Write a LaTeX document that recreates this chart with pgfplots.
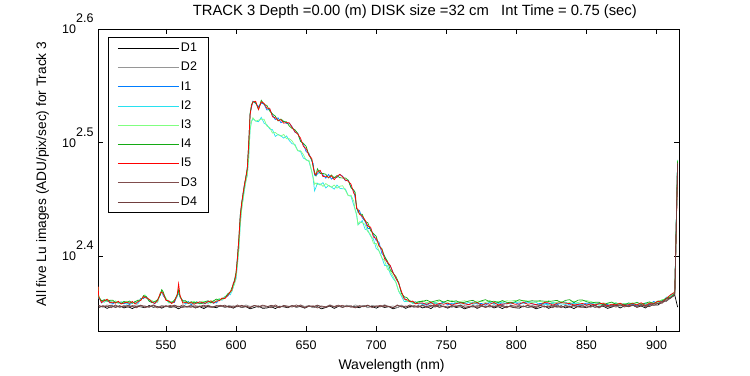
\documentclass[border=0pt]{standalone}
\usepackage{fontspec}
\setmainfont{Liberation Sans}
\usepackage{pgfplots}
\usepackage{pgfplotstable}
\pgfplotsset{compat=1.18}
\newcommand{\fs}[1]{\fontsize{#1}{#1}\selectfont}
\definecolor{cD1}{RGB}{0,0,0}
\definecolor{cD2}{RGB}{150,150,150}
\definecolor{cI1}{RGB}{0,125,255}
\definecolor{cI2}{RGB}{40,225,240}
\definecolor{cI3}{RGB}{128,255,128}
\definecolor{cI4}{RGB}{20,170,20}
\definecolor{cI5}{RGB}{255,0,0}
\definecolor{cD3}{RGB}{128,77,77}
\definecolor{cD4}{RGB}{112,62,62}

\pgfplotstableread{
x D1 D2 D3 D4
502 226.6 227.4 227.6 226.7
505 227.3 226.7 226.9 227.4
508 226.2 227.8 227.2 227.1
511 227.1 227.1 226.5 227.7
514 226.8 227.5 227.8 226.6
517 227.4 226.5 226.8 227.3
520 226.4 227.6 227.3 226.9
523 227.0 227.2 226.7 227.6
526 226.1 226.9 227.5 227.0
529 227.2 227.9 227.0 226.5
532 226.9 227.0 227.7 227.5
535 226.5 227.3 226.6 227.2
538 227.5 226.6 227.1 226.8
541 226.7 227.7 227.4 227.8
544 227.1 226.8 226.4 226.9
547 226.3 227.5 227.3 226.7
550 227.3 227.2 226.9 227.4
553 226.6 226.7 227.6 227.0
556 227.0 227.6 226.8 227.7
559 226.0 227.1 227.2 226.8
562 227.1 227.2 226.6 227.8
565 226.8 226.9 227.1 226.9
568 227.4 227.9 227.4 226.7
571 226.4 227.0 226.4 227.4
574 227.0 227.3 227.3 227.0
577 226.1 226.6 226.9 227.7
580 227.2 227.7 227.6 226.8
583 226.9 226.8 226.8 226.7
586 226.5 227.5 227.2 227.4
589 227.5 227.2 227.6 227.1
592 226.7 226.7 226.9 227.7
595 227.1 227.6 227.2 226.6
598 226.3 227.1 226.5 227.3
601 227.3 227.4 227.8 226.9
604 226.6 226.7 226.8 227.6
607 227.0 227.8 227.3 227.0
610 226.0 227.1 226.7 226.5
613 226.6 227.5 227.5 227.5
616 227.3 226.5 227.0 227.2
619 226.2 227.6 227.7 226.8
622 226.4 226.8 227.2 226.9
625 227.0 227.5 226.5 227.6
628 226.1 227.2 227.8 227.0
631 227.2 226.7 226.8 226.5
634 226.9 227.6 227.3 227.5
637 226.5 227.1 226.7 227.2
640 227.5 227.4 227.5 226.8
643 226.7 226.7 227.0 227.8
646 227.1 227.8 227.7 226.9
649 226.3 227.1 226.6 226.7
652 227.3 227.5 227.1 227.4
655 226.6 226.5 227.4 227.0
658 227.0 227.6 226.4 227.7
661 226.0 227.2 227.3 226.8
664 226.6 226.9 226.9 226.7
667 227.3 227.9 227.6 227.4
670 226.2 227.0 226.8 227.1
673 227.1 227.3 227.2 227.7
676 226.8 226.6 227.6 226.6
679 227.4 227.7 226.9 227.3
682 227.2 226.7 227.4 226.8
685 226.9 227.8 226.4 226.7
688 226.5 227.1 227.3 227.4
691 227.5 227.5 226.9 227.1
694 226.7 226.5 227.6 227.7
697 227.1 227.6 226.8 226.6
700 226.3 227.2 227.2 227.3
703 227.3 226.9 227.6 226.9
706 226.6 227.9 226.9 227.6
709 227.0 227.0 227.2 227.0
712 226.0 227.3 226.5 226.5
715 226.6 226.6 227.8 227.5
718 227.3 227.7 226.8 227.2
721 226.2 226.8 227.3 226.8
724 227.1 227.5 226.7 227.8
727 226.8 227.2 227.5 226.9
730 227.4 226.7 227.0 226.7
733 226.4 227.6 227.7 227.4
736 227.0 227.1 226.6 227.0
739 226.1 227.4 227.1 227.7
742 227.5 226.9 227.8 226.8
745 226.7 227.9 226.8 227.8
748 227.1 227.0 227.3 226.9
751 226.3 227.3 226.7 226.7
754 227.3 226.6 227.5 227.4
757 226.6 227.7 227.0 227.0
760 227.0 226.8 227.7 227.7
763 226.0 227.5 226.6 226.8
766 226.6 227.2 227.1 226.7
769 227.3 226.7 227.4 227.4
772 226.2 227.6 226.4 227.1
775 227.1 227.1 227.3 227.7
778 226.8 227.4 226.9 226.6
781 227.4 226.7 227.6 227.3
784 226.4 227.8 226.8 226.9
787 227.0 227.1 227.2 227.6
790 226.1 227.5 227.6 227.0
793 227.2 226.5 226.9 226.5
796 226.9 227.6 227.2 227.5
799 226.5 227.2 226.5 227.2
802 226.3 227.5 227.3 227.3
805 227.3 227.2 226.9 226.9
808 226.6 226.7 227.6 227.6
811 227.0 227.6 226.8 227.0
814 226.0 227.1 227.2 226.5
817 226.6 227.4 227.6 227.5
820 227.3 226.7 226.9 227.2
823 226.2 227.8 227.2 226.8
826 227.1 227.1 226.5 227.8
829 226.8 227.5 227.8 226.9
832 227.4 226.5 226.8 226.7
835 226.4 227.6 227.3 227.4
838 227.0 227.2 226.7 227.0
841 226.1 226.9 227.5 227.7
844 227.2 227.9 227.0 226.8
847 226.9 227.0 227.7 226.7
850 226.5 227.3 226.6 227.4
853 227.5 226.6 227.1 227.1
856 226.7 227.7 227.4 227.7
859 227.1 226.8 226.4 226.6
862 227.2 228.0 227.5 227.9
865 226.2 227.3 226.9 227.0
868 226.8 227.7 227.7 226.9
871 227.5 226.7 227.2 227.6
874 226.4 227.8 227.9 227.3
877 227.3 227.4 226.8 227.9
880 227.1 227.2 227.4 226.9
883 227.7 228.2 227.7 227.6
886 226.7 227.3 226.7 227.2
889 227.3 227.6 227.6 227.9
892 226.4 226.9 227.2 227.3
895 227.7 228.2 228.1 227.0
898 227.7 227.6 227.6 228.3
901 227.7 228.7 228.4 228.4
904 229.3 229.0 229.4 228.6
907 229.5 229.5 229.7 230.6
910 231.1 231.6 231.2 230.9
913 232.3 233.1 232.5 232.7
915 226.8 303.0 303.5 303.0
}\Ddata

\pgfplotstableread{
x I1 I2 I3 I4 I5
501.6 235.5 234.8 236.2 235.9 236.4
502 231.8 230.8 231.8 231.4 231.6
504 228.7 229.8 229.5 229.7 228.9
506 230.1 229.0 229.1 230.2 229.8
508 229.6 230.1 230.5 229.5 230.4
510 229.4 228.6 229.8 229.9 228.8
512 228.2 229.0 228.9 230.0 229.1
514 229.2 229.2 229.7 228.8 228.6
516 228.7 228.5 228.6 229.2 229.5
518 229.2 228.6 229.2 228.4 228.2
520 228.3 229.4 228.9 229.4 228.7
522 228.8 228.1 229.5 228.9 229.1
524 227.9 228.9 228.6 229.6 228.5
526 229.0 228.5 229.0 228.6 229.4
528 228.8 229.4 228.4 229.3 228.2
530 228.7 228.4 229.8 230.0 229.3
532 230.8 230.3 230.3 229.9 229.9
534 230.7 231.4 231.4 232.1 231.7
535 231.8 231.2 232.5 231.8 231.1
536 230.9 231.8 231.0 231.6 231.2
538 230.3 229.6 230.3 229.5 230.4
540 229.3 228.8 229.8 228.9 229.1
542 228.3 229.4 229.1 229.3 228.5
544 230.1 229.0 229.1 230.2 229.8
546 232.6 233.1 233.5 232.5 233.4
547 234.4 233.6 234.8 234.9 233.8
548 232.1 232.9 232.8 233.9 233.0
550 230.5 230.5 231.0 230.1 229.9
552 228.9 228.7 228.8 229.4 229.7
554 229.4 228.8 229.4 228.6 228.4
556 228.9 230.0 229.5 230.0 229.3
558 232.2 231.5 232.9 232.3 232.5
559 233.2 234.2 233.9 234.9 237.8
560 231.9 231.4 231.9 231.5 232.3
562 229.2 229.8 228.8 229.7 228.6
564 228.4 228.1 229.5 229.7 229.0
566 229.4 228.9 228.9 228.5 228.5
568 227.9 228.6 228.6 229.3 228.9
570 228.8 228.2 229.5 228.8 228.1
572 228.4 229.3 228.5 229.1 228.7
574 229.1 228.4 229.1 228.3 229.2
576 229.0 228.5 229.5 228.6 228.8
578 228.3 229.4 229.1 229.3 228.5
580 229.6 228.5 228.6 229.7 229.3
582 228.8 229.3 229.7 228.7 229.6
584 229.2 228.4 229.6 229.7 228.6
586 228.7 229.5 229.4 230.5 229.6
588 230.3 230.3 230.8 229.9 229.7
590 230.2 230.0 230.1 230.7 231.0
592 231.7 231.1 231.7 230.9 230.7
594 231.8 232.9 232.4 232.9 232.2
596 233.8 232.5 233.9 233.9 234.1
597 234.2 234.4 234.1 235.9 234.8
598 237.6 235.9 236.4 237.2 238.0
599 239.5 238.6 237.6 240.0 238.9
600 242.2 239.9 241.3 243.5 242.8
601 251.3 247.3 247.4 250.4 250.4
602 259.4 255.1 255.2 260.8 260.4
603 273.2 267.6 269.0 273.2 272.5
604 279.4 276.8 276.1 280.1 279.7
605 285.5 281.8 282.6 284.7 285.6
606 290.8 287.3 288.4 290.4 290.6
607 294.5 292.6 292.4 295.5 294.7
608 300.2 296.1 296.3 300.3 299.9
609 314.8 306.3 306.8 314.7 315.6
610 335.1 324.3 325.6 335.6 334.5
611 339.8 330.1 330.1 341.6 340.7
612 344.0 332.0 332.6 343.6 343.4
614 342.3 330.4 330.4 343.0 343.9
616 340.2 330.0 331.0 338.3 338.2
618 342.7 332.9 331.7 344.6 343.5
620 341.9 329.0 331.6 341.8 342.5
622 337.9 327.9 327.1 341.0 339.1
624 338.3 325.3 326.1 337.2 339.1
626 334.5 324.7 322.5 335.2 333.3
628 331.4 320.3 322.9 333.7 332.6
630 332.6 321.6 321.4 330.5 330.8
632 329.3 320.7 320.5 331.8 331.3
634 330.4 319.2 321.6 330.1 329.0
636 328.8 320.6 318.8 329.9 329.4
638 329.0 317.6 318.8 327.1 329.2
640 326.6 315.6 317.4 325.5 326.2
642 323.0 315.2 314.4 324.7 323.4
644 322.4 311.2 311.2 322.3 321.8
646 317.6 310.6 311.2 317.1 319.2
648 315.2 306.6 308.8 315.9 314.0
650 310.6 305.7 305.3 313.9 312.4
652 309.5 304.5 305.3 308.4 308.3
654 304.8 298.4 298.4 305.5 306.4
655 303.2 294.0 295.0 301.3 301.2
656 296.2 286.9 290.7 298.1 297.0
657 295.9 289.0 291.6 295.8 296.5
658 296.9 291.4 290.6 300.0 298.1
660 298.3 290.3 291.1 297.2 299.1
662 296.5 291.7 289.5 297.2 295.3
664 294.4 288.6 291.2 296.7 295.6
666 296.6 290.1 289.9 294.5 294.8
668 293.8 289.2 289.0 296.3 295.8
670 294.9 287.9 290.3 294.6 293.5
672 294.8 290.3 288.5 295.9 295.4
674 296.5 288.4 289.6 294.6 296.7
676 295.6 288.1 289.9 294.5 295.2
678 292.8 288.0 287.2 294.5 293.2
680 293.2 284.2 284.2 293.1 292.6
682 289.2 283.8 284.4 288.7 290.8
684 286.7 278.6 280.8 287.4 285.5
685 282.6 276.2 275.8 285.9 284.4
686 278.0 273.0 273.8 276.9 276.8
687 274.8 267.9 267.9 275.5 276.4
688 275.7 268.5 269.5 273.8 273.7
690 271.7 270.2 269.0 273.6 272.5
692 269.9 265.5 268.1 269.8 270.5
694 265.9 264.9 264.1 269.0 267.1
696 265.8 261.8 262.6 264.7 266.6
698 262.5 260.2 258.0 263.2 261.3
700 259.4 255.3 257.9 261.7 260.6
702 258.6 254.1 253.9 256.5 256.8
704 252.8 250.7 250.5 255.3 254.8
706 251.4 246.7 249.1 251.1 250.0
708 247.8 246.6 244.8 248.9 248.4
710 246.5 242.6 243.8 244.6 246.7
712 243.3 240.3 241.4 242.9 243.1
714 240.3 238.6 238.4 241.3 240.5
716 238.2 234.1 234.3 238.3 237.9
718 233.3 231.8 232.3 233.2 234.1
720 231.1 229.3 230.6 231.6 230.5
722 229.3 229.4 229.4 231.1 230.2
724 229.8 229.4 230.0 229.4 229.2
726 228.8 228.4 228.6 229.3 229.6
728 229.3 228.6 229.3 228.5 228.3
730 228.2 229.2 228.8 229.3 228.6
733 228.6 227.9 229.8 229.4 228.7
736 227.6 228.6 228.8 230.0 228.0
739 228.8 228.3 229.3 229.1 229.0
742 228.4 229.0 228.5 229.6 227.6
745 228.1 227.8 229.7 230.1 228.5
748 229.2 228.7 229.2 229.0 228.1
751 227.8 228.5 229.0 229.9 228.6
754 228.6 228.0 229.8 229.3 227.7
757 228.3 229.2 228.9 229.7 228.4
760 228.9 228.2 229.4 228.8 228.8
763 228.7 228.2 229.7 229.0 228.3
766 227.9 229.0 229.2 229.6 227.9
769 229.1 228.0 228.6 229.9 228.6
772 228.2 228.7 229.6 228.8 228.8
775 228.5 227.7 229.4 229.7 227.7
778 227.7 228.5 228.9 230.2 228.4
781 228.9 228.9 229.9 229.2 228.1
784 228.3 228.1 228.7 229.5 228.9
787 229.0 228.4 229.5 228.9 227.8
790 228.0 229.1 229.1 229.8 228.2
793 228.7 228.2 229.7 229.0 228.3
796 228.2 228.7 229.6 228.8 228.8
799 228.9 228.9 229.9 229.2 228.1
802 228.0 229.1 229.5 230.2 228.2
805 228.8 228.3 229.9 229.6 229.0
808 229.2 228.7 229.6 229.4 228.1
811 228.3 229.2 228.9 229.7 228.4
814 227.9 229.0 229.2 229.6 227.9
817 228.5 227.7 229.4 229.7 227.7
820 228.3 228.1 228.7 229.5 228.9
823 228.6 227.9 229.8 229.4 228.7
826 228.4 229.0 228.5 229.6 227.6
829 227.8 228.5 229.0 229.9 228.6
832 228.9 228.2 229.4 228.8 228.8
835 229.1 228.0 228.6 229.9 228.6
838 227.7 228.5 228.9 230.2 228.4
841 229.0 228.4 229.5 228.9 227.8
844 227.6 228.6 228.8 230.0 228.0
847 228.1 227.8 229.7 230.1 228.5
850 228.6 228.0 229.8 229.3 227.7
853 228.6 228.1 229.4 228.7 228.2
856 227.7 228.8 228.7 229.0 227.8
859 228.7 227.6 227.8 229.0 228.3
862 227.8 228.3 228.7 227.8 228.6
865 228.0 227.2 228.4 228.6 227.4
868 227.2 228.0 227.9 229.1 228.1
871 228.4 228.4 228.9 228.1 227.8
874 227.8 227.6 227.7 228.4 228.6
877 228.5 227.9 228.5 227.8 227.5
880 227.5 228.6 228.1 228.7 227.9
883 228.1 227.4 228.8 228.3 228.4
886 227.2 228.2 227.9 229.0 227.8
889 228.4 227.9 228.4 228.1 228.8
892 228.1 228.7 227.6 228.6 227.5
895 228.0 227.7 229.0 229.2 228.6
898 229.4 228.9 228.7 228.3 228.5
901 228.4 229.1 228.9 229.6 229.4
904 229.8 229.2 230.3 229.6 229.1
907 230.5 231.4 230.4 231.0 230.8
910 232.4 231.7 232.2 231.4 232.5
913 233.9 233.4 234.1 233.2 233.7
915 305.5 305.0 305.3 304.8 300.0
}\Idata

\begin{document}
\begin{tikzpicture}[x=1bp,y=1bp]
\useasboundingbox (0,0) rectangle (750,375);
\begin{axis}[
  at={(98bp,44bp)}, anchor=south west,
  scale only axis, width=581bp, height=302bp,
  xmin=501.5, xmax=916,
  ymode=log, ymin=216.1, ymax=398.1,
  xtick={550,600,650,700,750,800,850,900},
  ytick={251.189,316.228,398.107},
  yticklabels={10\smash{\raisebox{11bp}{2.4}},10\smash{\raisebox{11bp}{2.5}},10\smash{\raisebox{11bp}{2.6}}},
  minor tick length=0pt,
  tick align=inside, major tick length=5bp,
  xtick pos=both, ytick pos=both,
  xticklabel pos=lower, yticklabel pos=left,
  /pgf/number format/assume math mode=true,
  /pgf/number format/1000 sep={},
  tick label style={font=\fs{12.5bp}},
  xticklabel style={anchor=base, yshift=-19bp},
  yticklabel style={xshift=-1bp},
  axis line style={line width=0.6bp},
  every tick/.style={black, line width=0.6bp},
  xlabel={Wavelength (nm)},
  ylabel={All five Lu images (ADU/pix/sec) for Track 3},
  xlabel style={font=\fs{14bp}, at={(axis description cs:0.5053,0)}, anchor=base, yshift=-39bp},
  ylabel style={font=\fs{13.7bp}, at={(axis description cs:-0.0955,0.52)}, anchor=center},
  legend cell align=left,
  legend image code/.code={\draw[#1] (0bp,0bp) -- (60.7bp,0bp);},
  legend style={at={(axis description cs:0.0177,0.9725)}, anchor=north west,
    font=\fs{12.5bp}, draw=black, line width=0.6bp,
    inner xsep=9bp, inner ysep=3.2bp, row sep=4.2bp,
    nodes={inner sep=2bp, text height=9bp, text depth=2bp},
    /tikz/every even column/.append style={column sep=2.7bp}},
]
\addplot[cD1, line width=0.7bp] table[x=x,y=D1]{\Ddata};
\addlegendentry{D1}
\addplot[cD2, line width=0.7bp] table[x=x,y=D2]{\Ddata};
\addlegendentry{D2}
\addplot[cI1, line width=0.7bp] table[x=x,y=I1]{\Idata};
\addlegendentry{I1}
\addplot[cI2, line width=0.7bp] table[x=x,y=I2]{\Idata};
\addlegendentry{I2}
\addplot[cI3, line width=0.7bp] table[x=x,y=I3]{\Idata};
\addlegendentry{I3}
\addplot[cI4, line width=0.7bp] table[x=x,y=I4]{\Idata};
\addlegendentry{I4}
\addplot[cI5, line width=0.7bp] table[x=x,y=I5]{\Idata};
\addlegendentry{I5}
\addplot[cD3, line width=0.7bp] table[x=x,y=D3]{\Ddata};
\addlegendentry{D3}
\addplot[cD4, line width=0.7bp] table[x=x,y=D4]{\Ddata};
\addlegendentry{D4}
\end{axis}
\node[anchor=base, font=\fs{14.8bp}] at (414.8,360) {TRACK 3 Depth =0.00 (m) DISK size =32 cm\ \ \ Int Time = 0.75 (sec)};
\end{tikzpicture}
\end{document}
